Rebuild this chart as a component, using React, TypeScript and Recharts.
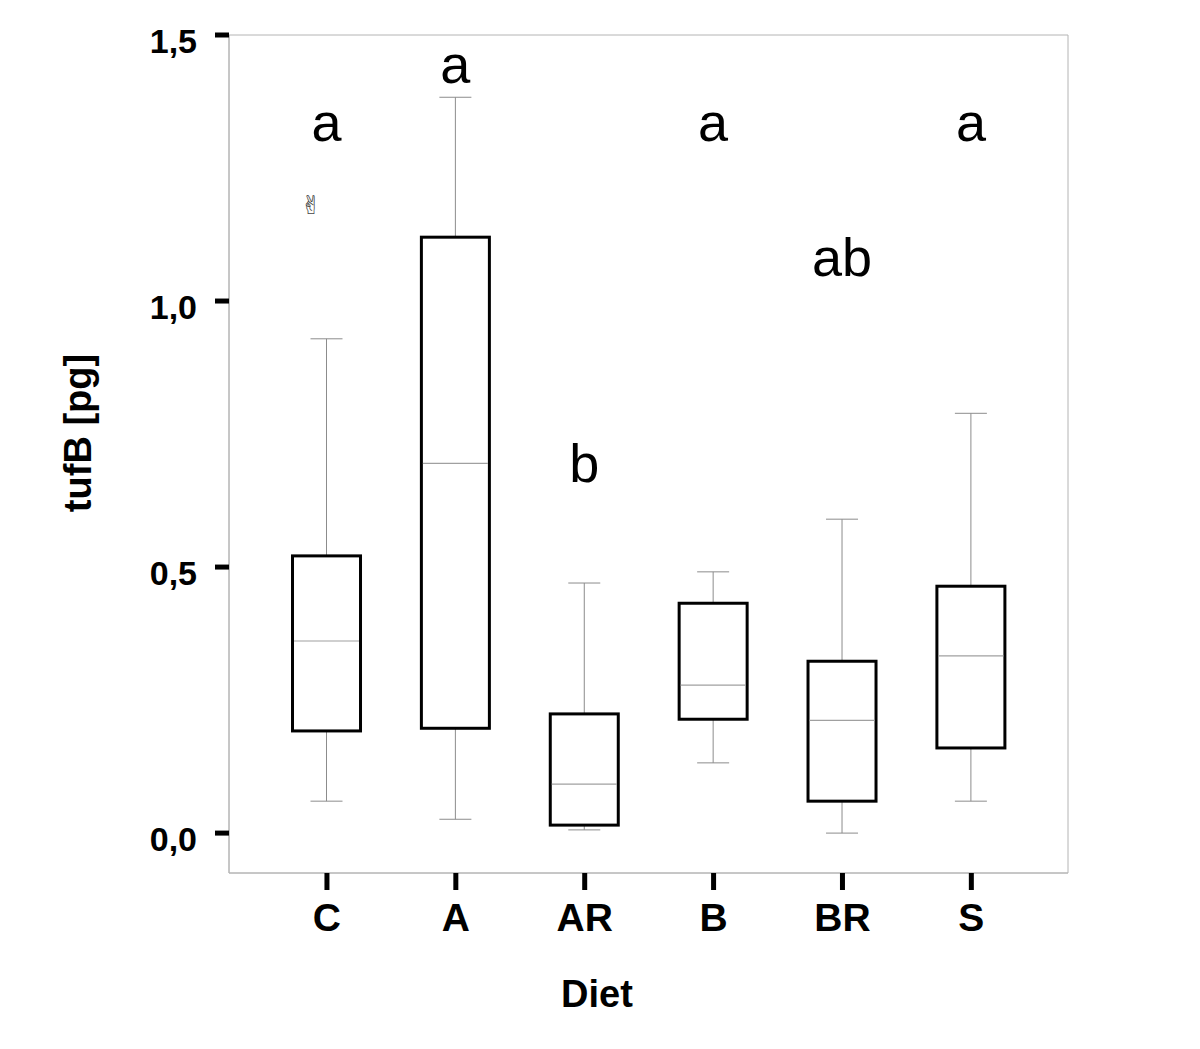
import { Bar, ComposedChart, ReferenceArea, XAxis, YAxis } from "recharts";

const diets = ["C", "A", "AR", "B", "BR", "S"];
const whiskerLow = [0.06, 0.026, 0.006, 0.132, 0.0, 0.06];
const q1 = [0.192, 0.197, 0.015, 0.214, 0.06, 0.16];
const medians = [0.361, 0.695, 0.092, 0.278, 0.212, 0.333];
const q3 = [0.521, 1.12, 0.224, 0.432, 0.323, 0.464];
const whiskerHigh = [0.929, 1.383, 0.47, 0.491, 0.59, 0.789];
const outliers = [[1.18], [], [], [], [], []];
const letters = ["a", "a", "b", "a", "ab", "a"];
const letterAt = [1.3, 1.41, 0.66, 1.3, 1.047, 1.3];
const yTicks = [0, 0.5, 1, 1.5];
const yDomain = [-0.075, 1.5];
const xDomain = [0.24, 6.75];

const data = diets.map((diet, i) => ({
  pos: i + 1,
  diet,
  box: [q1[i], q3[i]],
  low: whiskerLow[i],
  q1: q1[i],
  med: medians[i],
  q3: q3[i],
  high: whiskerHigh[i],
  out: outliers[i],
  letter: letters[i],
  letterAt: letterAt[i],
}));

const FONT = "'Liberation Sans', Arial, Helvetica, sans-serif";
const FRAME = "#b4b4b4";
const WHISKER = "#8c8c8c";

const BoxShape = (props: any) => {
  const { x, y, width, height, payload } = props;
  // pixels per unit, taken from the bar's own scaled extent
  const k = height / (payload.q3 - payload.q1);
  const py = (v: number) => y + (payload.q3 - v) * k;
  const cx = x + width / 2;
  return (
    <g>
      <line x1={cx} x2={cx} y1={py(payload.high)} y2={y} stroke={WHISKER} strokeWidth={1} />
      <line x1={cx - 16} x2={cx + 16} y1={py(payload.high)} y2={py(payload.high)} stroke={WHISKER} strokeWidth={1} />
      <line x1={cx} x2={cx} y1={y + height} y2={py(payload.low)} stroke={WHISKER} strokeWidth={1} />
      <line x1={cx - 16} x2={cx + 16} y1={py(payload.low)} y2={py(payload.low)} stroke={WHISKER} strokeWidth={1} />
      <rect x={x} y={y} width={width} height={height} fill="none" stroke="#000" strokeWidth={3} />
      <line x1={x + 1.5} x2={x + width - 1.5} y1={py(payload.med)} y2={py(payload.med)} stroke="#a0a0a0" strokeWidth={1.2} />
      {payload.out.map((v: number, j: number) => (
        <text
          key={j}
          x={cx - 15}
          y={py(v) + 9}
          textAnchor="middle"
          fontSize={26}
          fill="#444"
          fontFamily="'DejaVu Sans', 'Noto Sans', sans-serif"
        >
          {"\u270C\uFE0E"}
        </text>
      ))}
      <text x={cx} y={py(payload.letterAt)} textAnchor="middle" fontSize={54} fontFamily={FONT} fill="#000">
        {payload.letter}
      </text>
    </g>
  );
};

export default function App() {
  return (
    <div style={{ position: "absolute", left: 0, top: 0, background: "#fff" }}>
      <ComposedChart
        width={1200}
        height={1049}
        data={data}
        margin={{ top: 35, right: 132, left: 139, bottom: 96 }}
      >
        <ReferenceArea y1={yDomain[0]} y2={yDomain[1]} fill="none" stroke={FRAME} strokeWidth={1} ifOverflow="visible" />
        <XAxis
          type="number"
          dataKey="pos"
          domain={xDomain}
          ticks={data.map((d) => d.pos)}
          allowDataOverflow
          height={80}
          axisLine={{ stroke: FRAME, strokeWidth: 1 }}
          tickLine={{ stroke: "#000", strokeWidth: 5 }}
          tickSize={17}
          tickMargin={13}
          tickFormatter={(v: number) => diets[v - 1]}
          tick={{ fontSize: 39, fontWeight: "bold", fill: "#000", fontFamily: FONT }}
          label={{
            content: (p: any) => (
              <text
                x={p.viewBox.x + 368}
                y={1007}
                textAnchor="middle"
                fontSize={38}
                fontWeight="bold"
                fontFamily={FONT}
                fill="#000"
              >
                Diet
              </text>
            ),
          }}
        />
        <YAxis
          type="number"
          domain={yDomain}
          ticks={yTicks}
          allowDataOverflow
          width={90}
          axisLine={{ stroke: FRAME, strokeWidth: 1 }}
          tickLine={{ stroke: "#000", strokeWidth: 5 }}
          tickSize={14}
          tickMargin={18}
          tickFormatter={(v: number) => v.toFixed(1).replace(".", ",")}
          tick={{ fontSize: 34, fontWeight: "bold", fill: "#000", fontFamily: FONT, dy: 6 }}
          label={{
            content: () => (
              <text
                x={91}
                y={433}
                transform="rotate(-90, 91, 433)"
                textAnchor="middle"
                fontSize={38}
                fontWeight="bold"
                fontFamily={FONT}
                fill="#000"
              >
                tufB [pg]
              </text>
            ),
          }}
        />
        <Bar dataKey="box" barSize={68} shape={BoxShape} isAnimationActive={false} />
      </ComposedChart>
    </div>
  );
}
